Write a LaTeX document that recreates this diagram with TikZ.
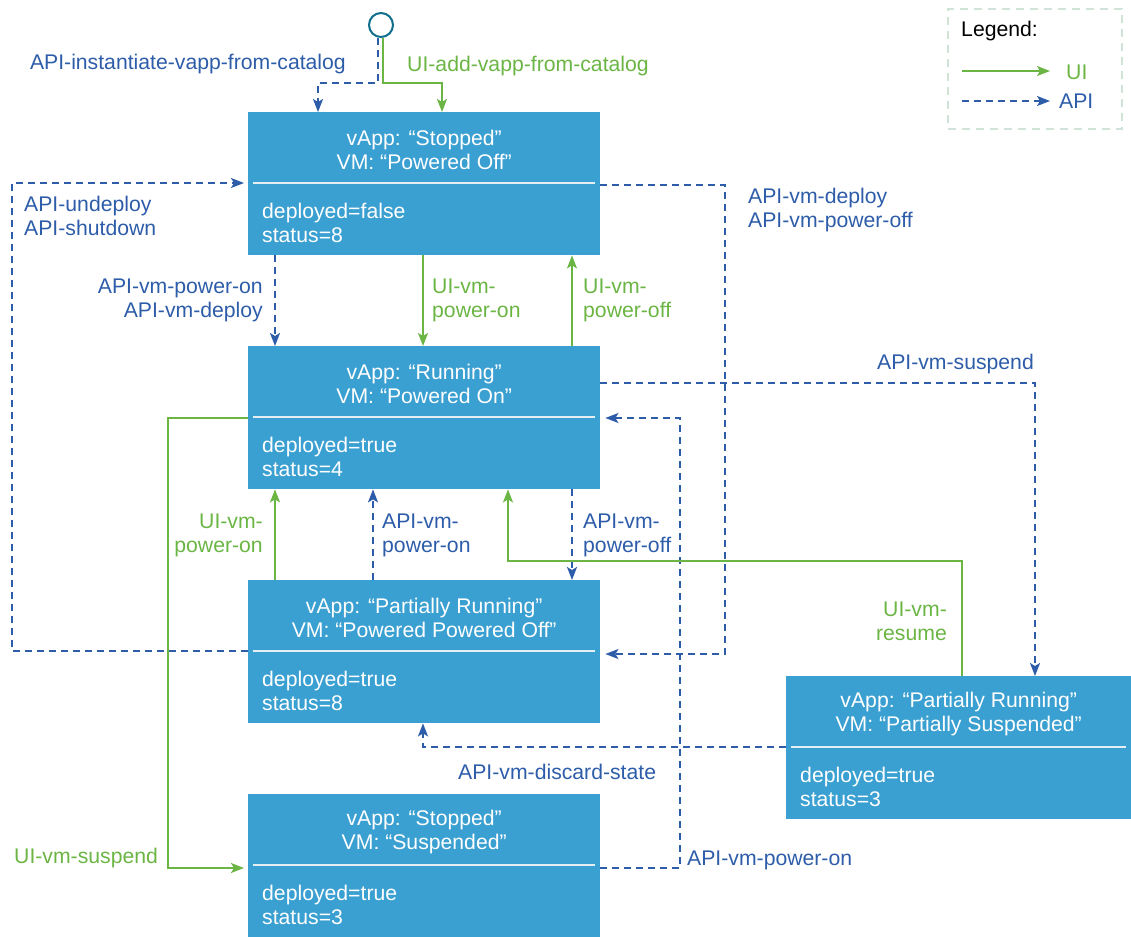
\documentclass[tikz,border=0pt]{standalone}
\usepackage{fontspec}
\setmainfont{Liberation Sans}
\usetikzlibrary{arrows.meta,calc}
\definecolor{boxblue}{HTML}{3A9FD1}
\definecolor{apiblue}{HTML}{2D5CA9}
\definecolor{uigreen}{HTML}{6BB544}
\definecolor{startteal}{HTML}{0F6E8C}
\definecolor{sepwhite}{HTML}{E4EEF4}
\definecolor{legendgray}{HTML}{CFE3D6}
\newcommand{\dfont}{\fontsize{21.2}{24}\selectfont}
\tikzset{
  box/.style={fill=boxblue, draw=none, minimum height=143pt, anchor=north west, inner sep=0pt},
  boxtitle/.style={align=center, text=white, inner sep=0pt, font=\dfont},
  boxdata/.style={align=left, text=white, inner sep=0pt, anchor=west, font=\dfont},
  sepline/.style={draw=sepwhite, line width=2pt},
  api/.style={draw=apiblue, line width=1.8pt, dash pattern=on 7pt off 5pt, -{Stealth[length=13pt,width=10pt,inset=3pt]}},
  ui/.style={draw=uigreen, line width=1.8pt, -{Stealth[length=13pt,width=10pt,inset=3pt]}},
  apitext/.style={text=apiblue, inner sep=0pt, font=\dfont},
  uitext/.style={text=uigreen, inner sep=0pt, font=\dfont},
}
\newcommand{\stbox}[5]{%
  \node[box, minimum width=#3] (#1) at #2 {};
  \node[boxtitle] (#1-t) at ([yshift=-38pt]#1.north) {#4};
  \draw[sepline] ([xshift=5pt,yshift=-71pt]#1.north west) -- ([xshift=-5pt,yshift=-71pt]#1.north east);
  \node[boxdata] (#1-d) at ([xshift=14pt,yshift=-111pt]#1.north west) {#5};
}
\begin{document}
\begin{tikzpicture}[x=1pt,y=-1pt]
\useasboundingbox (0,0) rectangle (1131,936);

% state boxes
\stbox{b1}{(248,112)}{352pt}{vApp: “Stopped”\\VM: “Powered Off”}{deployed=false\\status=8}
\stbox{b2}{(248,346)}{352pt}{vApp: “Running”\\VM: “Powered On”}{deployed=true\\status=4}
\stbox{b3}{(248,580)}{352pt}{vApp: “Partially Running”\\VM: “Powered Powered Off”}{deployed=true\\status=8}
\stbox{b4}{(248,794)}{352pt}{vApp: “Stopped”\\VM: “Suspended”}{deployed=true\\status=3}
\stbox{b5}{(786,676)}{345pt}{vApp: “Partially Running”\\VM: “Partially Suspended”}{deployed=true\\status=3}

% start
\node[circle, draw=startteal, line width=2pt, fill=white, minimum size=24pt, inner sep=0pt] (s) at (381,25) {};

% bend coordinates
\coordinate (c1) at (318,83);
\coordinate (c2) at (442,83);
\coordinate (L1) at (12,651);
\coordinate (L2) at (12,183);
\coordinate (R1) at (725,185);
\coordinate (R2) at (725,654);
\coordinate (S1) at (1035,383);
\coordinate (P1) at (680,868);
\coordinate (P2) at (680,418);
\coordinate (G1) at (168,418);
\coordinate (G2) at (168,868);
\coordinate (M1) at (962,561);
\coordinate (M2) at (508,561);
\coordinate (D1) at (423,747);
\coordinate (x275) at (275,0);
\coordinate (x373) at (373,0);
\coordinate (x423) at (423,0);
\coordinate (x572) at (572,0);

% start edges
\draw[api] ([xshift=-3pt]s.south) |- (c1) -- (c1 |- b1.north);
\draw[ui] ([xshift=2pt]s.south) |- (c2) -- (c2 |- b1.north);

% left loop: b3 -> b1
\draw[api, shorten >=4pt] (L1 -| b3.west) -- (L1) -- (L2) -- (L2 -| b1.west);
% right loop: b1 -> b3
\draw[api, shorten >=5pt] (R1 -| b1.east) -- (R1) -- (R2) -- (R2 -| b3.east);

% b1 <-> b2
\draw[api] (x275 |- b1.south) -- (x275 |- b2.north);
\draw[ui] (x423 |- b1.south) -- (x423 |- b2.north);
\draw[ui] (x572 |- b2.north) -- (x572 |- b1.south);

% b2 -> b5 suspend
\draw[api] (S1 -| b2.east) -- (S1) -- (S1 |- b5.north);

% b4 -> b2 power-on
\draw[api, shorten >=5pt] (P1 -| b4.east) -- (P1) -- (P2) -- (P2 -| b2.east);

% b2 -> b4 suspend (UI)
\draw[ui, shorten >=4pt] (G1 -| b2.west) -- (G1) -- (G2) -- (G2 -| b4.west);

% b3 <-> b2
\draw[ui] (x275 |- b3.north) -- (x275 |- b2.south);
\draw[api] (x373 |- b3.north) -- (x373 |- b2.south);
\draw[api] (x572 |- b2.south) -- (x572 |- b3.north);

% b5 -> b2 resume
\draw[ui] (M1 |- b5.north) -- (M1) -- (M2) -- (M2 |- b2.south);

% b5 -> b3 discard
\draw[api] (D1 -| b5.west) -- (D1) -- (D1 |- b3.south);

% labels
\node[apitext, anchor=east] (l1) at (346,64) {API-instantiate-vapp-from-catalog};
\node[uitext, anchor=west] (l2) at (407,66) {UI-add-vapp-from-catalog};
\node[apitext, anchor=west, align=left] (l3) at (24,216) {API-undeploy\\API-shutdown};
\node[apitext, anchor=west, align=left] (l4) at (748,210) {API-vm-deploy\\API-vm-power-off};
\node[apitext, anchor=east, align=right] (l5) at (263,300) {API-vm-power-on\\API-vm-deploy};
\node[uitext, anchor=west, align=left] (l6) at (432,300) {UI-vm-\\power-on};
\node[uitext, anchor=west, align=left] (l7) at (583,300) {UI-vm-\\power-off};
\node[apitext, anchor=east] (l8) at (1034,364) {API-vm-suspend};
\node[uitext, anchor=east, align=right] (l9) at (263,535) {UI-vm-\\power-on};
\node[apitext, anchor=west, align=left] (l10) at (382,535) {API-vm-\\power-on};
\node[apitext, anchor=west, align=left] (l11) at (583,535) {API-vm-\\power-off};
\node[uitext, anchor=east, align=right] (l12) at (947,621) {UI-vm-\\resume};
\node[apitext, anchor=west] (l13) at (458,772) {API-vm-discard-state};
\node[uitext, anchor=west] (l14) at (14,858) {UI-vm-suspend};
\node[apitext, anchor=west] (l15) at (687,860) {API-vm-power-on};

% legend
\node[draw=legendgray, line width=2pt, dash pattern=on 8pt off 6pt, minimum width=174pt, minimum height=120pt, anchor=north west, inner sep=0pt] (leg) at (947,8) {};
\node[inner sep=0pt, anchor=west, font=\dfont] (legt) at (961,31) {Legend:};
\coordinate (lu1) at (962,71);
\coordinate (lu2) at (1050,71);
\coordinate (la1) at (962,101);
\coordinate (la2) at (1050,101);
\draw[ui] (lu1) -- (lu2);
\draw[api] (la1) -- (la2);
\node[uitext, anchor=west] (legui) at (1066,72) {UI};
\node[apitext, anchor=west] (legapi) at (1059,101) {API};
\end{tikzpicture}
\end{document}
